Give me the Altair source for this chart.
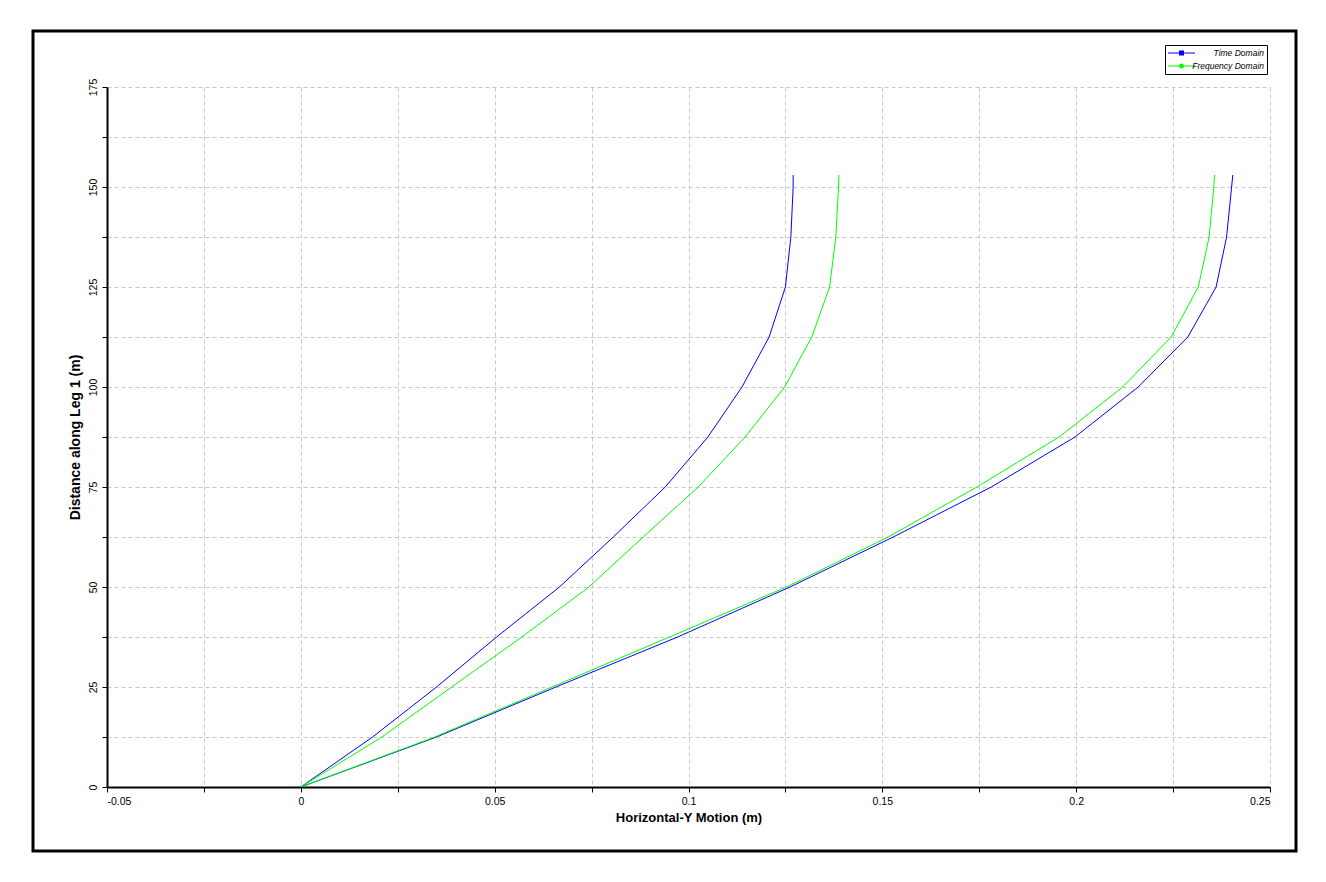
import altair as alt
import pandas as pd

# ---- data ----
distance = [0, 12.5, 25, 37.5, 50, 62.5, 75, 87.5, 100, 112.5, 125, 137.5, 150, 153]
time_domain_a = [0, 0.0185, 0.0350, 0.0505, 0.0667, 0.0806, 0.0940, 0.1050, 0.1138, 0.1208, 0.1250, 0.1264, 0.1270, 0.1270]
freq_domain_a = [0, 0.0209, 0.0389, 0.0570, 0.0743, 0.0883, 0.1025, 0.1146, 0.1248, 0.1318, 0.1364, 0.1380, 0.1387, 0.1388]
time_domain_b = [0, 0.0350, 0.0658, 0.0972, 0.1262, 0.1528, 0.1781, 0.1997, 0.2160, 0.2288, 0.2361, 0.2388, 0.2401, 0.2404]
freq_domain_b = [0, 0.0345, 0.0648, 0.0951, 0.1253, 0.1515, 0.1744, 0.1956, 0.2120, 0.2245, 0.2315, 0.2343, 0.2355, 0.2357]
series_names = ["Time Domain", "Frequency Domain"]
series_colors = ["#0000ff", "#00ff00"]
x_ticks = [-0.05, -0.025, 0, 0.025, 0.05, 0.075, 0.1, 0.125, 0.15, 0.175, 0.2, 0.225, 0.25]
y_ticks = [0, 12.5, 25, 37.5, 50, 62.5, 75, 87.5, 100, 112.5, 125, 137.5, 150, 162.5, 175]

rows = []
for name, line_id, vals in [
    ("Time Domain", "TD-a", time_domain_a),
    ("Frequency Domain", "FD-a", freq_domain_a),
    ("Time Domain", "TD-b", time_domain_b),
    ("Frequency Domain", "FD-b", freq_domain_b),
]:
    for d, v in zip(distance, vals):
        rows.append({"series": name, "line": line_id, "distance": d, "motion": v})
df = pd.DataFrame(rows)

# legend-only rows (no coordinates, so nothing is drawn in the plot)
legend_df = pd.DataFrame({"series": series_names, "motion": [None, None], "distance": [None, None]})

# legend symbols: line segment + marker (filled paths)
sym_square = "M-1,-0.1H4.4V0.1H-1Z M1.2,-0.5H2.2V0.5H1.2Z"
sym_circle = "M-1,-0.1H4.4V0.1H-1Z M1.2,0A0.5,0.5 0 1,1 2.2,0A0.5,0.5 0 1,1 1.2,0Z"

color_scale = alt.Scale(domain=series_names, range=series_colors)
shape_scale = alt.Scale(domain=series_names, range=[sym_square, sym_circle])

x_scale = alt.Scale(domain=[-0.05, 0.25], nice=False, zero=False)
y_scale = alt.Scale(domain=[0, 175], nice=False, zero=False)

x_axis = alt.Axis(
    values=x_ticks,
    labelExpr="abs(round(datum.value*1000) % 50) === 0 ? '' + (round(datum.value*100)/100) : ''",
    title="Horizontal-Y Motion (m)",
    titleFontSize=13,
    labelPadding=4,
    titlePadding=5,
    grid=True,
)
y_axis = alt.Axis(
    values=y_ticks,
    labelExpr="datum.value % 25 === 0 ? datum.label : ''",
    title="Distance along Leg 1 (m)",
    titleFontSize=14,
    labelAngle=270,
    labelAlign="center",
    labelBaseline="bottom",
    labelPadding=4,
    titlePadding=6,
    grid=True,
)

legend = alt.Legend(
    title=None,
    orient="none",
    legendX=1058,
    legendY=-42,
    padding=3,
    strokeColor="black",
    fillColor="white",
    labelFont="Liberation Sans",
    labelFontSize=8.5,
    labelFontStyle="italic",
    labelColor="black",
    labelAlign="right",
    labelOffset=86,
    symbolSize=100,
    symbolStrokeWidth=0,
    symbolOpacity=1,
    rowPadding=3,
)

frame = alt.Chart(pd.DataFrame({"k": [0]})).mark_rect(
    fillOpacity=0, stroke="black", strokeWidth=3
).encode(
    x=alt.value(-74), x2=alt.value(1189), y=alt.value(-56), y2=alt.value(764)
)

lines = alt.Chart(df).mark_line(strokeWidth=1, clip=True).encode(
    x=alt.X("motion:Q", scale=x_scale, axis=x_axis),
    y=alt.Y("distance:Q", scale=y_scale, axis=y_axis),
    color=alt.Color("series:N", scale=color_scale, legend=None),
    detail="line:N",
    order="distance:Q",
)

legend_layer = alt.Chart(legend_df).mark_point(
    filled=True, size=100, opacity=1
).encode(
    x=alt.X("motion:Q", scale=x_scale, axis=x_axis),
    y=alt.Y("distance:Q", scale=y_scale, axis=y_axis),
    color=alt.Color("series:N", scale=color_scale, legend=legend),
    shape=alt.Shape("series:N", scale=shape_scale, legend=legend),
)

chart = alt.layer(frame, lines, legend_layer).resolve_scale(
    color="independent", shape="independent"
).resolve_legend(
    color="independent", shape="independent"
).properties(
    width=1163,
    height=700,
    autosize=alt.AutoSizeParams(type="none"),
    padding={"left": 99, "top": 79, "right": 32, "bottom": 68},
    background="white",
).configure_view(stroke=None).configure_axis(
    domainColor="black",
    domainWidth=2,
    tickColor="black",
    tickWidth=1,
    tickSize=5,
    gridColor="#c8c8c8",
    gridDash=[4, 3],
    gridWidth=1,
    labelFont="Liberation Sans",
    labelFontSize=10.5,
    labelColor="black",
    titleFont="Liberation Sans",
    titleFontWeight="bold",
    titleColor="black",
)

chart.save("out.html", embed_options={"renderer": "svg", "actions": False})
